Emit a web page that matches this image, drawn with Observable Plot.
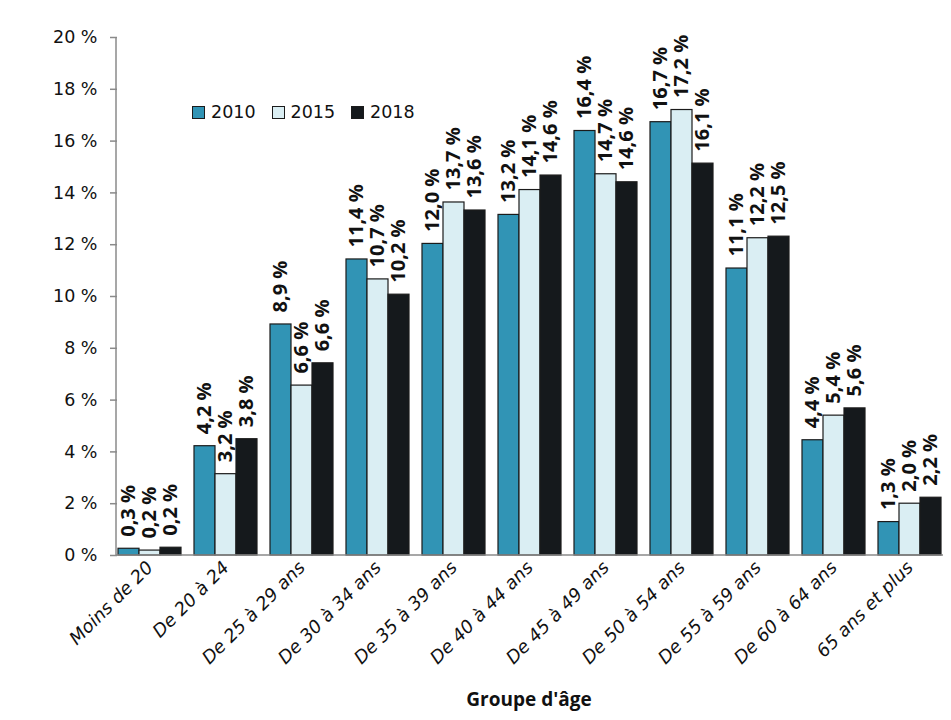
<!DOCTYPE html>
<html>
<head>
<meta charset="utf-8">
<script src="https://cdn.jsdelivr.net/npm/d3@7"></script>
<script src="https://cdn.jsdelivr.net/npm/@observablehq/plot@0.6"></script>
<style>
  html, body { margin: 0; padding: 0; background: #fff; }
  #wrap { position: relative; width: 951px; height: 720px; }
  #legend { position: absolute; left: 192px; top: 102px; display: flex; align-items: center;
            font-family: "DejaVu Sans", sans-serif; font-size: 17.5px; color: #111; }
  #legend .item { display: flex; align-items: center; margin-right: 16px; }
  #legend .sw { width: 11px; height: 11px; border: 1px solid #1b1b1b; margin-right: 6px; }
</style>
</head>
<body>
<div id="wrap"><div id="legend"></div></div>
<script>
const groups = ["Moins de 20", "De 20 à 24", "De 25 à 29 ans", "De 30 à 34 ans", "De 35 à 39 ans",
  "De 40 à 44 ans", "De 45 à 49 ans", "De 50 à 54 ans", "De 55 à 59 ans", "De 60 à 64 ans", "65 ans et plus"];
const years = ["2010", "2015", "2018"];
const colors = ["#3194B5", "#DAEEF3", "#15191C"];

// bar heights (as drawn)
const v2010 = [0.26, 4.22, 8.92, 11.43, 12.03, 13.15, 16.39, 16.73, 11.08, 4.45, 1.29];
const v2015 = [0.19, 3.14, 6.56, 10.66, 13.63, 14.11, 14.72, 17.2, 12.25, 5.4, 2.0];
const v2018 = [0.3, 4.49, 7.42, 10.07, 13.32, 14.67, 14.41, 15.13, 12.31, 5.68, 2.23];

// data labels (as printed)
const l2010 = [0.3, 4.2, 8.9, 11.4, 12.0, 13.2, 16.4, 16.7, 11.1, 4.4, 1.3];
const l2015 = [0.2, 3.2, 6.6, 10.7, 13.7, 14.1, 14.7, 17.2, 12.2, 5.4, 2.0];
const l2018 = [0.2, 3.8, 6.6, 10.2, 13.6, 14.6, 14.6, 16.1, 12.5, 5.6, 2.2];

const yTicks = [0, 2, 4, 6, 8, 10, 12, 14, 16, 18, 20];
const xTitle = "Groupe d'âge";

const series = [[v2010, l2010], [v2015, l2015], [v2018, l2018]];
const rows = [];
groups.forEach((g, i) => years.forEach((yr, j) => {
  rows.push({group: g, year: yr, value: series[j][0][i], label: series[j][1][i]});
}));
const fmt = d => d3.format(".1f")(d).replace(".", ",") + " %";

const W = 951, H = 720, mL = 116, mR = 9, mT = 37, mB = 165;

const chart = Plot.plot({
  width: W, height: H,
  marginTop: mT, marginBottom: mB, marginLeft: mL, marginRight: mR,
  style: {fontFamily: "DejaVu Sans, sans-serif", fontSize: "17px", color: "#111", background: "#fff"},
  fx: {domain: groups, padding: 0.147, label: null, axis: null},
  x: {domain: years, axis: null, padding: 0},
  y: {domain: [0, 20], axis: null},
  color: {domain: years, range: colors},
  marks: [
    Plot.axisY({ticks: yTicks, tickFormat: d => d + " %", tickSize: 7, tickPadding: 13,
      stroke: "#8a8a8a", strokeWidth: 1.5, fontSize: 17.5, label: null}),
    Plot.axisFx({anchor: "bottom", tickRotate: -45, tickSize: 0, tickPadding: 9, fontStyle: "italic",
      fontSize: 18, label: null}),
    Plot.barY(rows, {fx: "group", x: "year", y: "value", fill: "year", stroke: "#1b1b1b", strokeWidth: 1.2}),
    Plot.text(rows, {fx: "group", x: "year", y: "value", text: d => fmt(d.label), rotate: -90,
      textAnchor: "start", dy: -12, fontWeight: "bold", fontFamily: "Open Sans", fontSize: 20, fill: "#111"})
  ]
});

const svg = d3.select(chart);
const y = chart.scale("y");
svg.append("line").attr("x1", mL).attr("x2", mL).attr("y1", y.apply(20)).attr("y2", y.apply(0))
  .attr("stroke", "#8a8a8a").attr("stroke-width", 1.5);
svg.append("line").attr("x1", mL).attr("x2", W - mR + 1).attr("y1", y.apply(0)).attr("y2", y.apply(0))
  .attr("stroke", "#8a8a8a").attr("stroke-width", 1.5);
svg.append("text").attr("x", (mL + W - mR) / 2).attr("y", 706).attr("text-anchor", "middle")
  .attr("font-family", "Open Sans").attr("font-weight", "bold").attr("font-size", 19).attr("fill", "#111")
  .text(xTitle);

document.getElementById("wrap").prepend(chart);

const leg = d3.select("#legend");
years.forEach((yr, j) => {
  const it = leg.append("div").attr("class", "item");
  it.append("div").attr("class", "sw").style("background", colors[j]);
  it.append("span").text(yr);
});
</script>
</body>
</html>
